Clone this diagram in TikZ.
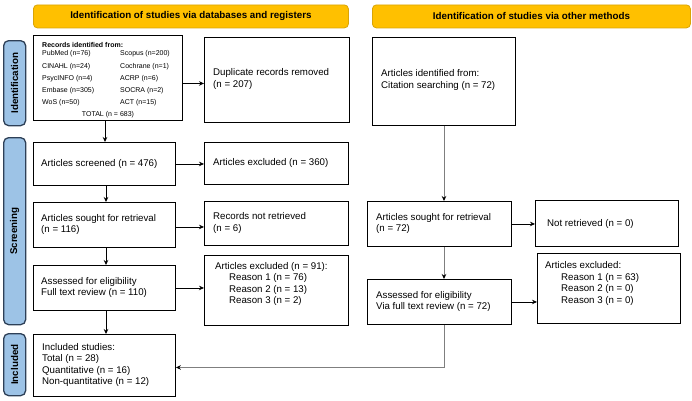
\documentclass[tikz,border=0pt]{standalone}
\usepackage{fontspec}
\setmainfont{Liberation Sans}
\usetikzlibrary{arrows.meta,calc}
\definecolor{hdrfill}{HTML}{FFC000}
\definecolor{hdrline}{HTML}{D9A406}
\definecolor{sidefill}{HTML}{9DC3E6}
\definecolor{sideline}{HTML}{2E4057}
\definecolor{grayline}{HTML}{7F7F7F}
\tikzset{
  hdr/.style={draw=hdrline, fill=hdrfill, rounded corners=4pt, line width=0.8pt,
    font=\fontsize{9.8}{11}\selectfont\bfseries, inner sep=0pt},
  side/.style={draw=sideline, fill=sidefill, rounded corners=5pt, line width=1.3pt,
    inner sep=0pt},
  sidetxt/.style={rotate=90, font=\fontsize{9.8}{11}\selectfont\bfseries, inner sep=0pt},
  box/.style={draw, line width=0.9pt, inner sep=0pt, fill=white},
  txt/.style={font=\fontsize{9.7}{11.5}\selectfont, align=left, anchor=west, inner sep=0pt},
  small/.style={font=\fontsize{7}{8}\selectfont, anchor=west, inner sep=0pt},
  arr/.style={line width=0.8pt, -{Stealth[length=5pt,width=4.5pt]}},
  garr/.style={draw=grayline, line width=0.8pt, -{Stealth[length=5pt,width=4.5pt,color=black]}},
}
\newcommand{\boxat}[5]{% name, x1, y1, x2, y2
  \node[box, minimum width={#4-#2}, minimum height={#5-#3}, anchor=north west] (#1) at (#2,#3) {};}
\begin{document}
\begin{tikzpicture}[x=1pt,y=-1pt]
\useasboundingbox (0,0) rectangle (692,400);
% headers
\node[hdr, minimum width=315, minimum height=23, anchor=north west] (h1) at (33,4.5) {Identification of studies via databases and registers};
\node[hdr, minimum width=318, minimum height=23, anchor=north west] (h2) at (372,4.5) {Identification of studies via other methods};
% side labels
\node[side, minimum width=22, minimum height=85, anchor=north west] (s1) at (3,40) {};
\node[sidetxt] (s1t) at (s1.center) {Identification};
\node[side, minimum width=22, minimum height=187, anchor=north west] (s2) at (3,137) {};
\node[sidetxt] (s2t) at (s2.center) {Screening};
\node[side, minimum width=22, minimum height=62, anchor=north west] (s3) at (3,333) {};
\node[sidetxt] (s3t) at (s3.center) {Included};
% left column boxes
\boxat{rec}{33}{35}{182}{120}
\node[small, font=\fontsize{7}{8}\selectfont\bfseries] (r0) at (42,45) {Records identified from:};
\node[small] (r1) at (42,54) {PubMed (n=76)};
\node[small] (r2) at (120,54) {Scopus (n=200)};
\node[small] (r3) at (42,67) {CINAHL (n=24)};
\node[small] (r4) at (120,67) {Cochrane (n=1)};
\node[small] (r5) at (42,79) {PsycINFO (n=4)};
\node[small] (r6) at (120,79) {ACRP (n=6)};
\node[small] (r7) at (42,90.5) {Embase (n=305)};
\node[small] (r8) at (120,90.5) {SOCRA (n=2)};
\node[small] (r9) at (42,102.5) {WoS (n=50)};
\node[small] (r10) at (120,102.5) {ACT (n=15)};
\node[small, anchor=center] (r11) at (108,114.5) {TOTAL (n = 683)};

\boxat{dup}{204}{37}{349}{122}
\node[txt] (dupt) at (213,79) {Duplicate records removed\\(n = 207)};

\boxat{scr}{33}{142}{175}{185}
\node[txt] (scrt) at (41,163.5) {Articles screened (n = 476)};
\boxat{exc}{204}{142}{348}{184}
\node[txt] (exct) at (213,163) {Articles excluded (n = 360)};

\boxat{sou}{33}{202}{175}{247}
\node[txt] (sout) at (41,224.5) {Articles sought for retrieval\\(n = 116)};
\boxat{nre}{204}{201}{348}{245}
\node[txt] (nret) at (213,223) {Records not retrieved\\(n = 6)};

\boxat{ass}{33}{265}{175}{310}
\node[txt] (asst) at (41,287.5) {Assessed for eligibility\\Full text review (n = 110)};
\boxat{ex2}{204}{255}{348}{325}
\node[txt, anchor=north west] (ex2t) at (215,262) {Articles excluded (n = 91):\\\hspace*{14pt}Reason 1 (n = 76)\\\hspace*{14pt}Reason 2 (n = 13)\\\hspace*{14pt}Reason 3 (n = 2)};

\boxat{inc}{33}{334}{175}{396}
\node[txt] (inct) at (42,365) {Included studies:\\Total (n = 28)\\Quantitative (n = 16)\\Non-quantitative (n = 12)};

% right column boxes
\boxat{cit}{372}{37}{515}{125}
\node[txt] (citt) at (381,80) {Articles identified from:\\Citation searching (n = 72)};
\boxat{sor}{367}{201}{511}{246}
\node[txt] (sort) at (376,223.5) {Articles sought for retrieval\\(n = 72)};
\boxat{nrr}{535}{200}{678}{246}
\node[txt] (nrrt) at (547,224) {Not retrieved (n = 0)};
\boxat{asr}{367}{279}{511}{324}
\node[txt] (asrt) at (376,301.5) {Assessed for eligibility\\Via full text review (n = 72)};
\boxat{exr}{537}{253}{680}{323}
\node[txt, anchor=north west] (exrt) at (545,261.5) {Articles excluded:\\\hspace*{16pt}Reason 1 (n = 63)\\\hspace*{16pt}Reason 2 (n = 0)\\\hspace*{16pt}Reason 3 (n = 0)};

% connectors left
\draw[arr] (rec.south -| 105,0) -- (scr.north -| 105,0);
\draw[arr] ([yshift=-5.5pt]rec.east) -- ([yshift=-5.5pt]rec.east -| dup.west);
\draw[arr] (scr.south -| 106,0) -- (sou.north -| 106,0);
\draw[arr] (scr.east) -- (scr.east -| exc.west);
\draw[arr] (sou.south -| 106,0) -- (ass.north -| 106,0);
\draw[arr] ([yshift=-2pt]sou.east) -- ([yshift=-2pt]sou.east -| nre.west);
\draw[arr] (ass.south -| 106,0) -- (inc.north -| 106,0);
\draw[arr] (ass.east) -- (ass.east -| ex2.west);
% connectors right
\draw[garr] (cit.south -| 444,0) -- (sor.north -| 444,0);
\draw[arr] (sor.east) -- (sor.east -| nrr.west);
\draw[garr] (sor.south -| 444,0) -- (asr.north -| 444,0);
\draw[arr] (asr.east) -- (asr.east -| exr.west);
\draw[garr] (asr.south -| 444,0) |- ([yshift=-2pt]inc.east);
\end{tikzpicture}
\end{document}
